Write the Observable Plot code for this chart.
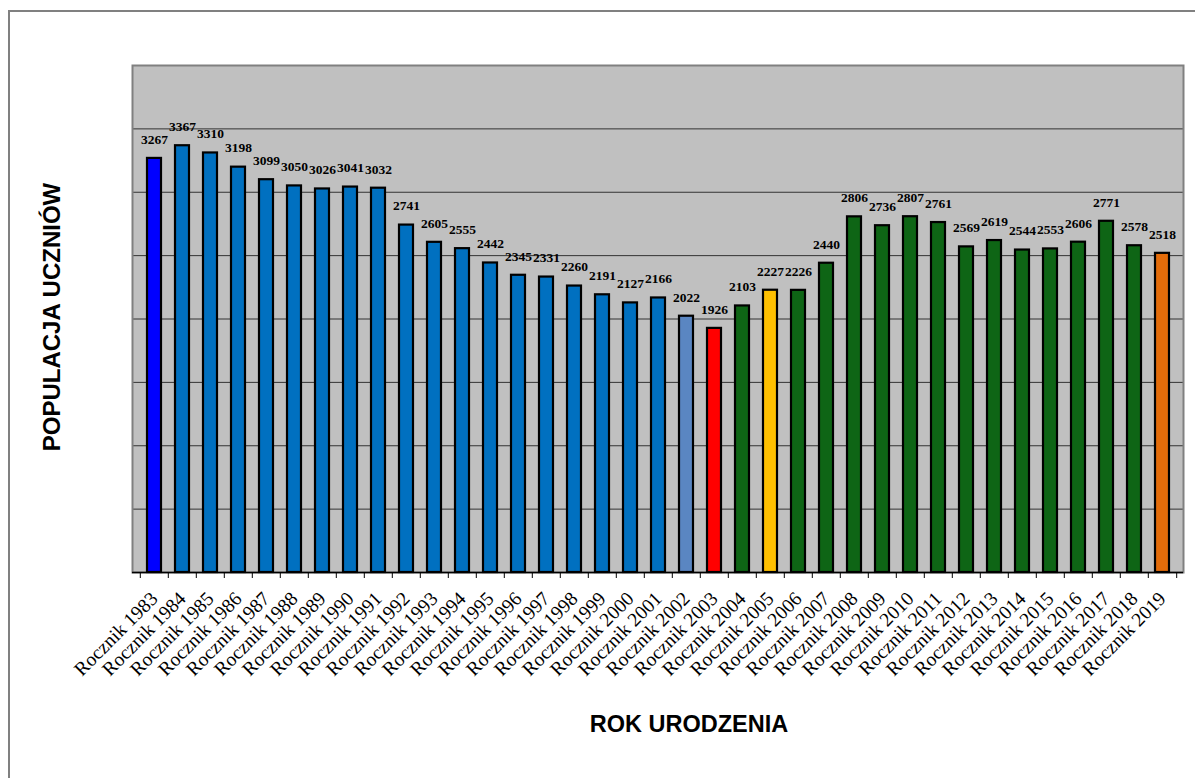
<!DOCTYPE html>
<html>
<head>
<meta charset="utf-8">
<script src="https://cdn.jsdelivr.net/npm/d3@7"></script>
<script src="https://cdn.jsdelivr.net/npm/@observablehq/plot@0.6"></script>
<style>
  html, body { margin: 0; padding: 0; background: #fff; }
  #wrap { position: relative; width: 1195px; height: 778px; overflow: hidden; }
  #border { position: absolute; left: 8px; top: 10px; width: 1200px; height: 800px;
            border-left: 2px solid #808080; border-top: 2px solid #808080; box-sizing: border-box; }
  #chart { position: absolute; left: 0; top: 0; }
  .ref-chart g[aria-label="x-axis tick label"] text {
    font-family: "Liberation Serif", "Times New Roman", serif !important;
    font-size: 19.5px !important;
    fill: #000;
  }
</style>
</head>
<body>
<div id="wrap"><div id="border"></div><div id="chart"></div></div>
<script>
const categories = [
  "Rocznik 1983","Rocznik 1984","Rocznik 1985","Rocznik 1986","Rocznik 1987","Rocznik 1988",
  "Rocznik 1989","Rocznik 1990","Rocznik 1991","Rocznik 1992","Rocznik 1993","Rocznik 1994",
  "Rocznik 1995","Rocznik 1996","Rocznik 1997","Rocznik 1998","Rocznik 1999","Rocznik 2000",
  "Rocznik 2001","Rocznik 2002","Rocznik 2003","Rocznik 2004","Rocznik 2005","Rocznik 2006",
  "Rocznik 2007","Rocznik 2008","Rocznik 2009","Rocznik 2010","Rocznik 2011","Rocznik 2012",
  "Rocznik 2013","Rocznik 2014","Rocznik 2015","Rocznik 2016","Rocznik 2017","Rocznik 2018",
  "Rocznik 2019"
];
const values = [
  3267, 3367, 3310, 3198, 3099, 3050,
  3026, 3041, 3032, 2741, 2605, 2555,
  2442, 2345, 2331, 2260, 2191, 2127,
  2166, 2022, 1926, 2103, 2227, 2226,
  2440, 2806, 2736, 2807, 2761, 2569,
  2619, 2544, 2553, 2606, 2771, 2578,
  2518
];
const BLUE = "#0000FF", MID = "#0070C0", STEEL = "#5A86C2", RED = "#FF0000",
      GREEN = "#0E6515", GOLD = "#FFC000", ORANGE = "#E46C0A";
const barColors = [
  BLUE, MID, MID, MID, MID, MID,
  MID, MID, MID, MID, MID, MID,
  MID, MID, MID, MID, MID, MID,
  MID, STEEL, RED, GREEN, GOLD, GREEN,
  GREEN, GREEN, GREEN, GREEN, GREEN, GREEN,
  GREEN, GREEN, GREEN, GREEN, GREEN, GREEN,
  ORANGE
];
const gridTicks = [500, 1000, 1500, 2000, 2500, 3000, 3500];
const yDomain = [0, 4000];
const yTitle = "POPULACJA UCZNIÓW";
const xTitle = "ROK URODZENIA";

const data = categories.map((c, i) => ({cat: c, value: values[i], color: barColors[i]}));

const W = 1195, H = 778, ML = 132, MR = 12, MT = 65, MB = 206;
const step = (W - ML - MR) / categories.length;

const chart = Plot.plot({
  className: "ref-chart",
  width: W,
  height: H,
  marginLeft: ML,
  marginRight: MR,
  marginTop: MT,
  marginBottom: MB,
  style: {background: "transparent", overflow: "visible"},
  x: {domain: categories, padding: 0, label: null},
  y: {domain: yDomain, label: null},
  marks: [
    Plot.frame({fill: "#C0C0C0", stroke: null}),
    Plot.gridY(gridTicks, {stroke: "#333", strokeOpacity: 1, strokeWidth: 1}),
    Plot.frame({stroke: "#808080", strokeWidth: 2, fill: null}),
    Plot.barY(data, {x: "cat", y: "value", fill: "color", stroke: "#000", strokeWidth: 2.2, insetLeft: 7, insetRight: 7}),
    Plot.ruleY([0], {stroke: "#000", strokeWidth: 1.5}),
    Plot.axisY({ticks: [], label: null}),
    Plot.axisX({ticks: categories, tickSize: 6, text: null, dx: -step / 2, stroke: "#000"}),
    Plot.axisX({ticks: categories.slice(-1), tickSize: 6, text: null, dx: step / 2, stroke: "#000"}),
    Plot.axisX({tickSize: 0, tickPadding: 23, tickRotate: -45, label: null,
      fontFamily: "Liberation Serif, Times New Roman, serif", fontSize: 19.5, fill: "#000"}),
    Plot.text(data, {x: "cat", y: "value", text: d => String(d.value), dy: -19,
      fontFamily: "Liberation Serif, Times New Roman, serif", fontWeight: "bold", fontSize: 13.5, fill: "#000"}),
    Plot.text([yTitle], {frameAnchor: "left", rotate: -90, dx: -80, dy: -2, textAnchor: "middle", lineAnchor: "middle",
      fontFamily: "Liberation Sans, Arial, sans-serif", fontWeight: "bold", fontSize: 24, fill: "#000"}),
    Plot.text([xTitle], {frameAnchor: "bottom", dx: 31, dy: 152, textAnchor: "middle", lineAnchor: "middle",
      fontFamily: "Liberation Sans, Arial, sans-serif", fontWeight: "bold", fontSize: 23.5, fill: "#000"})
  ]
});
document.getElementById("chart").appendChild(chart);
</script>
</body>
</html>
